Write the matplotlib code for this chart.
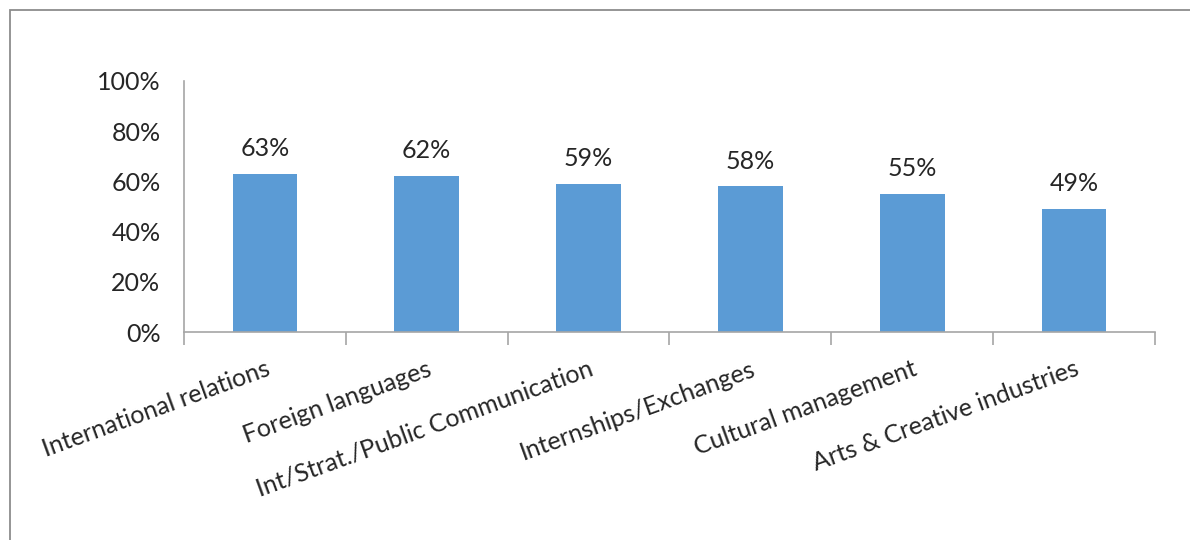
import matplotlib.pyplot as plt
from matplotlib.patches import Rectangle

categories = ["International relations", "Foreign languages",
              "Int/Strat./Public Communication", "Internships/Exchanges",
              "Cultural management", "Arts & Creative industries"]
values = [63, 62, 59, 58, 55, 49]
yticks = [0, 20, 40, 60, 80, 100]

BAR = "#5B9BD5"
AXC = "#A6A6A6"
TXT = "#262626"
plt.rcParams['font.family'] = ['Lato', 'DejaVu Sans']

W, H = 1190, 540
fig = plt.figure(figsize=(W / 100, H / 100), dpi=100)
# outer chart frame (only top and left edges visible in the crop)
fig.patches.append(Rectangle((9.5 / W, -0.1), 1.2, 1 - 9.5 / H + 0.1,
                             transform=fig.transFigure, fill=False,
                             edgecolor="#8C8C8C", lw=1.3))

ax = fig.add_axes([184 / W, 1 - 332 / H, (1155 - 184) / W, (332 - 81) / H])
x = range(len(categories))
ax.bar(x, values, width=0.4, color=BAR, zorder=2)
for xi, v in zip(x, values):
    ax.annotate(f"{v}%", (xi, v), xytext=(0, 10), textcoords="offset points",
                ha="center", va="bottom", fontsize=18, color=TXT)

ax.set_xlim(-0.5, len(categories) - 0.5)
ax.set_ylim(0, 100)
ax.set_yticks(yticks)
ax.set_yticklabels([f"{t}%" for t in yticks], fontsize=18, color=TXT)
ax.tick_params(axis="y", length=0, pad=17)

ax.set_xticks([i - 0.5 for i in range(len(categories) + 1)])
ax.set_xticklabels([])
ax.tick_params(axis="x", length=9, color=AXC, width=1.2, direction="out")
for i, lab in enumerate(categories):
    ax.text(i + 0.0, -0.1, lab, transform=ax.get_xaxis_transform(),
            rotation=20, rotation_mode="anchor", ha="right", va="top",
            fontsize=18, color=TXT)

for s in ["top", "right"]:
    ax.spines[s].set_visible(False)
for s in ["left", "bottom"]:
    ax.spines[s].set_color(AXC)
    ax.spines[s].set_linewidth(1.2)

fig.savefig("out.png", dpi=100)
